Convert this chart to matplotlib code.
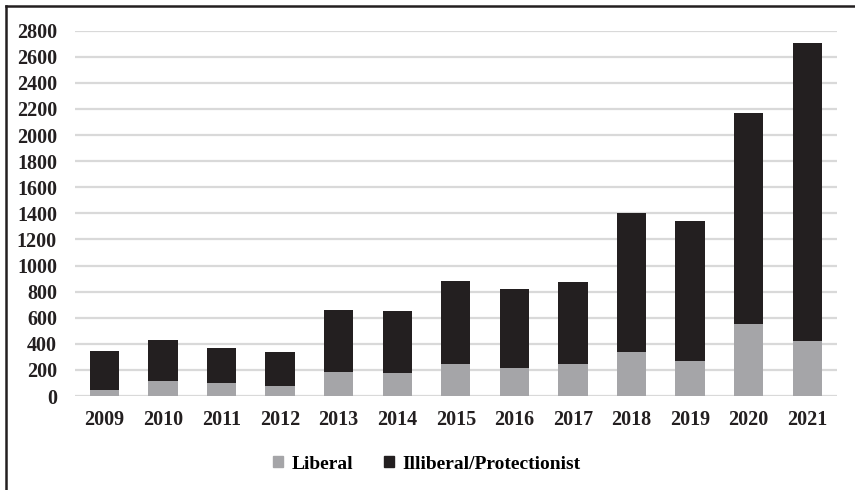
import matplotlib
matplotlib.use("Agg")
import matplotlib.pyplot as plt
from matplotlib.lines import Line2D
from matplotlib.patches import Patch

years = ["2009", "2010", "2011", "2012", "2013", "2014", "2015",
         "2016", "2017", "2018", "2019", "2020", "2021"]
liberal = [46, 115, 102, 79, 186, 174, 248, 212, 243, 340, 266, 554, 419]
totals = [345, 427, 365, 337, 659, 652, 879, 823, 871, 1405, 1344, 2169, 2708]
illiberal = [t - l for t, l in zip(totals, liberal)]
yticks = list(range(0, 2801, 200))

plt.rcParams['font.family'] = ['Liberation Serif', 'DejaVu Serif']
plt.rcParams['font.weight'] = 'bold'

W, H = 855, 490
FS = 14.5
fig = plt.figure(figsize=(W / 100, H / 100), dpi=100)
ax = fig.add_axes([75 / W, 1 - 396 / H, (836.5 - 75) / W, (396 - 30.7) / H])

x = range(len(years))
ax.bar(x, liberal, width=0.5, color="#a5a5a8", zorder=3)
ax.bar(x, illiberal, bottom=liberal, width=0.5, color="#231f20", zorder=3)

ax.set_xlim(-0.5, len(years) - 0.5)
ax.set_ylim(0, 2800)
ax.set_yticks(yticks)
ax.set_yticklabels([str(v) for v in yticks], fontsize=FS, fontweight='bold')
ax.set_xticks(list(x))
ax.set_xticklabels(years, fontsize=FS, fontweight='bold')
ax.tick_params(axis='both', length=0, colors="#231f20")
ax.tick_params(axis='y', pad=13)
ax.tick_params(axis='x', pad=10)
ax.grid(axis='y', color="#d9d9d9", linewidth=1.6, zorder=0)
for s in ax.spines.values():
    s.set_visible(False)

handles = [Patch(color="#a5a5a8", label="Liberal"),
           Patch(color="#231f20", label="Illiberal/Protectionist")]
fig.legend(handles=handles, loc='center', bbox_to_anchor=(427 / W, 1 - 464 / H),
           ncol=2, frameon=False, handlelength=0.5, handleheight=0.5,
           handletextpad=0.45, columnspacing=1.6,
           prop={'size': 14, 'weight': 'bold', 'family': 'Liberation Serif'})

# partial frame (left and top edges)
fig.add_artist(Line2D([5.5 / W, 5.5 / W], [0, 1 - 6 / H], transform=fig.transFigure,
                      color="#231f20", linewidth=1.8))
fig.add_artist(Line2D([5.5 / W, 1], [1 - 6 / H, 1 - 6 / H], transform=fig.transFigure,
                      color="#231f20", linewidth=1.8))

fig.savefig("out.png", dpi=100)
